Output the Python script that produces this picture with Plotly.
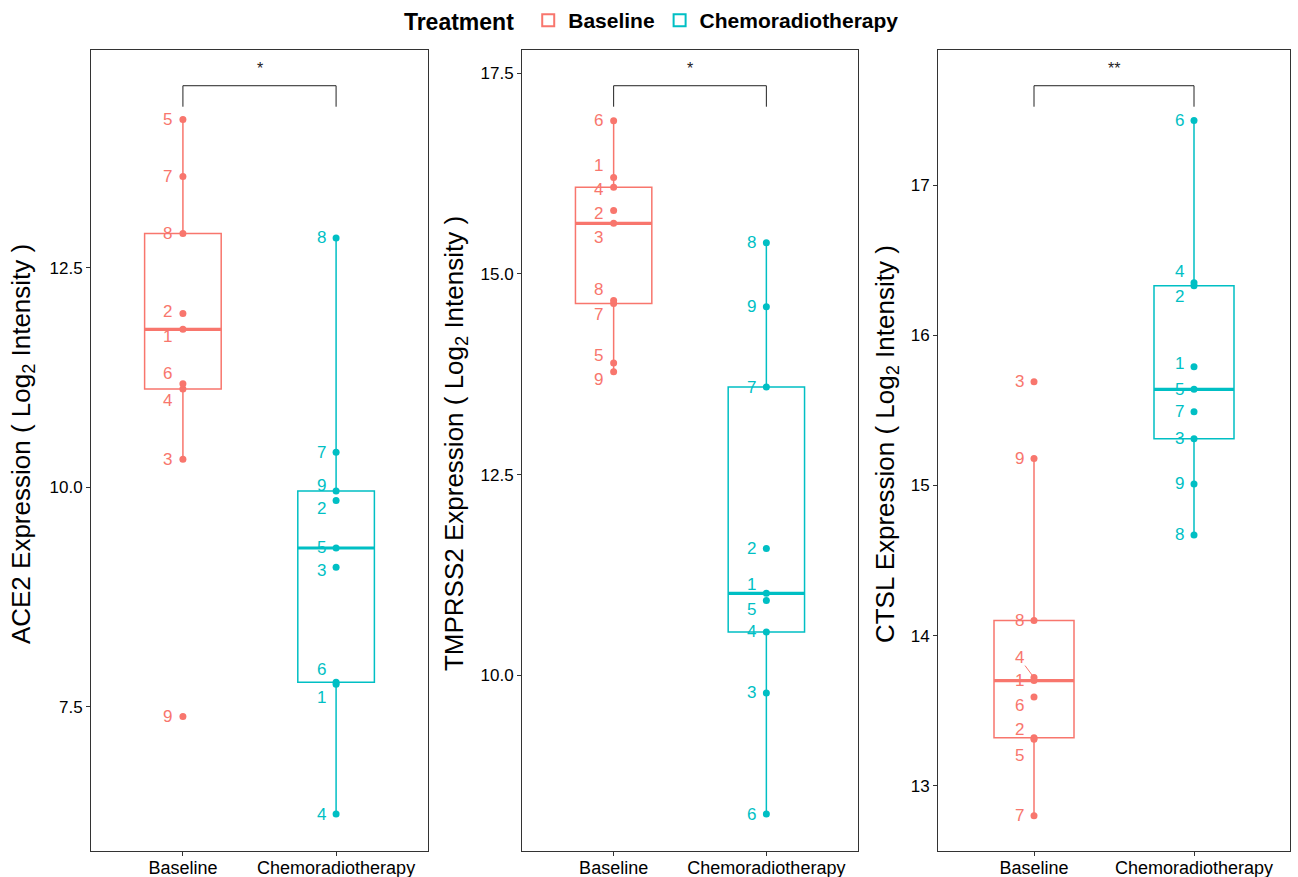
import numpy as np
import plotly.graph_objects as go

# Sample IDs (1..9) for each treatment arm
sample_ids = [1, 2, 3, 4, 5, 6, 7, 8, 9]
treatments = ["Baseline", "Chemoradiotherapy"]

# Log2 intensities, ordered by sample ID
ace2_baseline = [11.80, 11.98, 10.32, 11.12, 14.19, 11.18, 13.54, 12.89, 7.39]
ace2_chemo = [7.76, 9.85, 9.09, 6.28, 9.31, 7.78, 10.40, 12.84, 9.96]

tmprss2_baseline = [16.20, 15.79, 15.63, 16.08, 13.89, 16.91, 14.63, 14.67, 13.78]
tmprss2_chemo = [11.02, 11.58, 9.78, 10.54, 10.93, 8.27, 13.59, 15.39, 14.59]

ctsl_baseline = [13.70, 13.32, 15.69, 13.72, 13.31, 13.59, 12.80, 14.10, 15.18]
ctsl_chemo = [15.79, 16.33, 15.31, 16.35, 15.64, 17.43, 15.49, 14.67, 15.01]

significance = ["*", "*", "**"]
gene_names = ["ACE2", "TMPRSS2", "CTSL"]

# ---- styling ----
COLORS = {"Baseline": "#F8766D", "Chemoradiotherapy": "#00BFC4"}
FONT = "Liberation Sans, Arial, sans-serif"
W, H = 1298, 877

# panel geometry in pixels (left, right), shared top/bottom
panel_px = [(91, 428), (522, 858), (938, 1290)]
top_px, bottom_px = 50, 851
y_ranges = [[5.86, 14.98], [7.81, 17.79], [12.565, 17.90]]
y_dticks = [2.5, 2.5, 1]
y_formats = [".1f", ".1f", "d"]
title_shift = [-69, -67, -52]

# repel-style vertical nudges (px, up positive) for the sample labels
label_nudge = [
    ({2: 2, 1: -7, 6: 10, 4: -11}, {9: 5, 2: -8, 3: -3, 6: 13, 1: -13}),
    ({1: 12, 4: -2, 2: -3, 3: -14, 8: 11, 7: -11, 5: 8, 9: -8}, {1: 9, 5: -9}),
    ({6: -8, 2: 8, 5: -16}, {4: 11, 2: -11, 1: 3}),
]
# labels drawn with a leader segment: (panel, arm, sample) -> (ax, ay)
leader_labels = {(2, 0, 4): (-15, -20)}

datasets = [
    (ace2_baseline, ace2_chemo),
    (tmprss2_baseline, tmprss2_chemo),
    (ctsl_baseline, ctsl_chemo),
]


def box_stats(values):
    v = np.sort(np.asarray(values, dtype=float))
    q1, med, q3 = np.percentile(v, [25, 50, 75])
    iqr = q3 - q1
    lf = v[v >= q1 - 1.5 * iqr].min()
    uf = v[v <= q3 + 1.5 * iqr].max()
    return q1, med, q3, lf, uf


fig = go.Figure()
shapes, annotations = [], []
layout_axes = {}

for p, (arms, gene) in enumerate(zip(datasets, gene_names)):
    sfx = "" if p == 0 else str(p + 1)
    xa, ya = "x" + sfx, "y" + sfx
    for a, (vals, trt) in enumerate(zip(arms, treatments)):
        col = COLORS[trt]
        q1, med, q3, lf, uf = box_stats(vals)
        fig.add_trace(go.Box(
            x=[trt], q1=[q1], median=[med], q3=[q3],
            lowerfence=[lf], upperfence=[uf],
            name=f"<b>{trt}</b>", legendgroup=trt, showlegend=(p == 0),
            width=0.5, whiskerwidth=0, boxpoints=False,
            line=dict(color=col, width=1.5),
            fillcolor="rgba(255,255,255,0)",
            xaxis=xa, yaxis=ya, hoverinfo="skip",
        ))
        # thicker median bar
        shapes.append(dict(type="line", xref=xa, yref=ya,
                           x0=a - 0.25, x1=a + 0.25, y0=med, y1=med,
                           line=dict(color=col, width=3.2), layer="above"))
        fig.add_trace(go.Scatter(
            x=[trt] * len(vals), y=vals, mode="markers",
            marker=dict(color=col, size=7), showlegend=False,
            xaxis=xa, yaxis=ya, hoverinfo="skip",
        ))
        for sid, v in zip(sample_ids, vals):
            key = (p, a, sid)
            if key in leader_labels:
                ax_, ay_ = leader_labels[key]
                annotations.append(dict(
                    x=trt, y=v, xref=xa, yref=ya, text=str(sid),
                    showarrow=True, arrowhead=0, arrowwidth=1, arrowcolor=col,
                    ax=ax_, ay=ay_, standoff=3,
                    font=dict(family=FONT, size=17, color=col)))
            else:
                annotations.append(dict(
                    x=trt, y=v, xref=xa, yref=ya, text=str(sid),
                    showarrow=False, xanchor="center", yanchor="middle",
                    xshift=-15, yshift=label_nudge[p][a].get(sid, 0),
                    font=dict(family=FONT, size=17, color=col)))

    # significance bracket
    shapes.append(dict(type="path", xref=xa, yref=ya + " domain",
                       path="M 0,0.9292 L 0,0.9554 L 1,0.9554 L 1,0.9292",
                       line=dict(color="#222222", width=1)))
    annotations.append(dict(x=0.5, y=0.9765, xref=xa, yref=ya + " domain",
                            xanchor="center", yanchor="middle",
                            text=significance[p], showarrow=False,
                            font=dict(family=FONT, size=16, color="#222222")))
    # y-axis title
    annotations.append(dict(
        x=0, y=0.508, xref=xa + " domain", yref=ya + " domain",
        xshift=title_shift[p], xanchor="center", yanchor="middle",
        textangle=-90, showarrow=False,
        text=f"{gene} Expression ( Log<sub>2</sub> Intensity )",
        font=dict(family=FONT, size=26, color="black")))

    l, r = panel_px[p]
    axis_common = dict(showline=True, mirror=True, linecolor="#333333",
                       linewidth=1, ticks="outside", ticklen=4,
                       tickcolor="#333333", showgrid=False, zeroline=False,
                       automargin=False)
    layout_axes["xaxis" + sfx] = dict(
        axis_common, domain=[l / W, r / W], anchor=ya,
        type="category", categoryorder="array", categoryarray=treatments,
        range=[-0.6, 1.6], ticklabelstandoff=-4,
        tickfont=dict(family=FONT, size=18, color="black"))
    layout_axes["yaxis" + sfx] = dict(
        axis_common, domain=[1 - bottom_px / H, 1 - top_px / H], anchor=xa,
        range=y_ranges[p], dtick=y_dticks[p], tick0=0,
        tickformat=y_formats[p],
        tickfont=dict(family=FONT, size=17, color="black"))

fig.update_layout(
    width=W, height=H,
    margin=dict(l=0, r=0, t=0, b=0),
    paper_bgcolor="white", plot_bgcolor="white",
    boxmode="overlay",
    shapes=shapes, annotations=annotations,
    legend=dict(
        orientation="h", x=0.503, xanchor="center", y=1.0, yanchor="top",
        title=dict(text="<b>Treatment</b> ",
                   font=dict(family=FONT, size=23, color="black")),
        font=dict(family=FONT, size=21, color="black"),
        itemsizing="constant",
    ),
    **layout_axes,
)

fig.write_html("out.html")
